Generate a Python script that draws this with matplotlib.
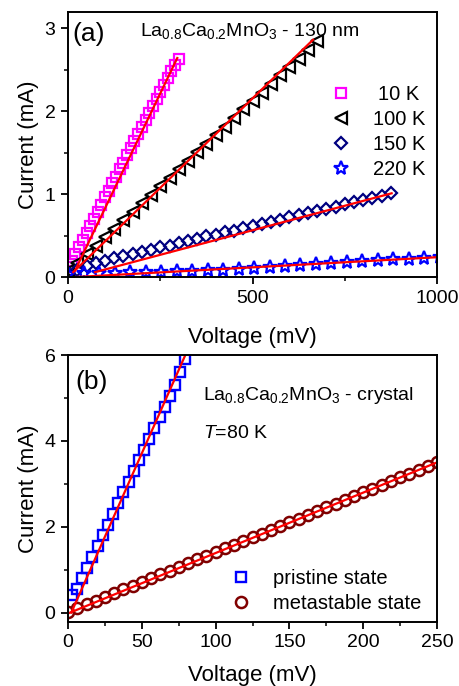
import matplotlib.pyplot as plt
from matplotlib.ticker import MultipleLocator

plt.rcParams['font.family'] = ['Liberation Sans', 'DejaVu Sans']
plt.rcParams['mathtext.fontset'] = 'custom'
plt.rcParams['mathtext.rm'] = 'Liberation Sans'
plt.rcParams['mathtext.it'] = 'Liberation Sans:italic'

# ---- panel (a): 130 nm film ----
v_10K = [0, 10, 20, 30, 40, 50, 60, 70, 80, 90, 100, 110, 120, 130, 140, 150,
         160, 170, 180, 190, 200, 210, 220, 230, 240, 250, 260, 270, 280, 290, 300]
i_10K = [0.12, 0.20, 0.28, 0.36, 0.45, 0.53, 0.62, 0.70, 0.79, 0.87, 0.96, 1.04,
         1.13, 1.21, 1.30, 1.38, 1.47, 1.55, 1.64, 1.72, 1.81, 1.89, 1.98, 2.06,
         2.15, 2.23, 2.32, 2.40, 2.48, 2.55, 2.63]

v_100K = [0, 25, 50, 75, 100, 125, 150, 175, 200, 225, 250, 275, 300, 325, 350,
          375, 400, 425, 450, 475, 500, 525, 550, 575, 600, 625, 650, 675]
i_100K = [0.07, 0.17, 0.28, 0.38, 0.48, 0.58, 0.69, 0.79, 0.89, 0.99, 1.10, 1.20,
          1.30, 1.40, 1.51, 1.61, 1.71, 1.81, 1.92, 2.02, 2.12, 2.22, 2.33, 2.43,
          2.53, 2.63, 2.74, 2.84]

v_150K = [0, 25, 50, 75, 100, 125, 150, 175, 200, 225, 250, 275, 300, 325, 350,
          375, 400, 425, 450, 475, 500, 525, 550, 575, 600, 625, 650, 675, 700,
          725, 750, 775, 800, 825, 850, 875]
i_150K = [0.05, 0.09, 0.13, 0.17, 0.20, 0.23, 0.25, 0.28, 0.30, 0.33, 0.36, 0.38,
          0.41, 0.43, 0.46, 0.49, 0.51, 0.54, 0.56, 0.59, 0.62, 0.64, 0.67, 0.69,
          0.72, 0.75, 0.77, 0.80, 0.82, 0.85, 0.88, 0.90, 0.93, 0.95, 0.98, 1.01]

v_220K = [0, 42, 84, 126, 168, 210, 252, 294, 336, 378, 420, 462, 504, 546, 588,
          630, 672, 714, 756, 798, 840, 882, 924, 966, 1008]
i_220K = [0.04, 0.045, 0.05, 0.055, 0.06, 0.062, 0.065, 0.07, 0.074, 0.081, 0.092,
          0.103, 0.114, 0.125, 0.136, 0.147, 0.158, 0.169, 0.18, 0.191, 0.202,
          0.213, 0.224, 0.235, 0.246]

fit_v_10K, fit_i_10K = [19, 296], [0.08, 2.64]
fit_v_100K, fit_i_100K = [14, 664], [0.06, 2.86]
fit_v_150K, fit_i_150K = [73, 877], [0.06, 1.01]
fit_v_220K, fit_i_220K = [15, 1000], [0.0, 0.24]

# ---- panel (b): crystal, T = 80 K ----
v_pristine = [2.5, 6, 9.5, 13, 16.5, 20, 23.5, 27, 30.5, 34, 37.5, 41, 44.5, 48,
              51.5, 55, 58.5, 62, 65.5, 69, 72.5, 76, 79.5, 83]
i_pristine = [0.40, 0.55, 0.80, 1.05, 1.30, 1.55, 1.80, 2.05, 2.30, 2.55, 2.80,
              3.05, 3.30, 3.55, 3.80, 4.05, 4.30, 4.55, 4.80, 5.05, 5.30, 5.60,
              5.90, 6.15]

v_meta = [0, 6.25, 12.5, 18.75, 25, 31.25, 37.5, 43.75, 50, 56.25, 62.5, 68.75,
          75, 81.25, 87.5, 93.75, 100, 106.25, 112.5, 118.75, 125, 131.25, 137.5,
          143.75, 150, 156.25, 162.5, 168.75, 175, 181.25, 187.5, 193.75, 200,
          206.25, 212.5, 218.75, 225, 231.25, 237.5, 243.75, 250]
i_meta = [0.02, 0.107, 0.194, 0.28, 0.37, 0.45, 0.54, 0.63, 0.72, 0.80, 0.89,
          0.98, 1.06, 1.15, 1.24, 1.32, 1.41, 1.50, 1.58, 1.67, 1.76, 1.84, 1.93,
          2.02, 2.11, 2.19, 2.28, 2.37, 2.45, 2.54, 2.63, 2.71, 2.80, 2.89, 2.97,
          3.06, 3.15, 3.24, 3.32, 3.41, 3.50]

fit_v_pristine, fit_i_pristine = [2.2, 82], [0.0, 6.2]
fit_v_meta, fit_i_meta = [0, 250], [-0.02, 3.5]

red = '#ff0000'
fig = plt.figure(figsize=(4.6, 6.86), dpi=100)
ax1 = fig.add_axes([0.148, 0.596, 0.802, 0.386])
ax2 = fig.add_axes([0.148, 0.0933, 0.802, 0.389])

mfc = 'none'
ax1.plot(v_10K, i_10K, 's', ms=7, mfc=mfc, mec='#ff00ff', mew=1.6, label='\u200510 K')
ax1.plot(v_100K, i_100K, '<', ms=8.5, mfc=mfc, mec='black', mew=1.6, label='100 K')
ax1.plot(v_150K, i_150K, 'D', ms=6.5, mfc=mfc, mec='#000080', mew=1.6, label='150 K')
ax1.plot(v_220K, i_220K, '*', ms=10, mfc=mfc, mec='#0000ff', mew=1.6, label='220 K')
for fv, fi in [(fit_v_10K, fit_i_10K), (fit_v_100K, fit_i_100K),
               (fit_v_150K, fit_i_150K), (fit_v_220K, fit_i_220K)]:
    ax1.plot(fv, fi, '-', color=red, lw=1.6)

ax2.plot(v_pristine, i_pristine, 's', ms=7, mfc=mfc, mec='#0000ff', mew=1.7, label='pristine state')
ax2.plot(v_meta, i_meta, 'o', ms=8, mfc=mfc, mec='#800000', mew=1.8, label='metastable state')
ax2.plot(fit_v_pristine, fit_i_pristine, '-', color=red, lw=1.6)
ax2.plot(fit_v_meta, fit_i_meta, '-', color=red, lw=1.6)

ax1.set_xlim(0, 1000)
ax1.set_ylim(0, 3.19)
ax1.xaxis.set_major_locator(MultipleLocator(500))
ax1.xaxis.set_minor_locator(MultipleLocator(250))
ax1.yaxis.set_major_locator(MultipleLocator(1))
ax1.yaxis.set_minor_locator(MultipleLocator(0.5))

ax2.set_xlim(0, 250)
ax2.set_ylim(-0.22, 6)
ax2.xaxis.set_major_locator(MultipleLocator(50))
ax2.xaxis.set_minor_locator(MultipleLocator(25))
ax2.yaxis.set_major_locator(MultipleLocator(2))
ax2.yaxis.set_minor_locator(MultipleLocator(1))

for ax in (ax1, ax2):
    for s in ax.spines.values():
        s.set_linewidth(1.4)
    ax.tick_params(which='major', direction='out', length=5, width=1.3, labelsize=14, pad=4)
    ax.tick_params(which='minor', direction='out', length=3, width=1.1)
    ax.set_ylabel('Current (mA)', fontsize=16, labelpad=4)
ax1.set_xlabel('Voltage (mV)', fontsize=16, labelpad=15)
ax2.set_xlabel('Voltage (mV)', fontsize=16, labelpad=10)

ax1.text(0.012, 0.92, '(a)', transform=ax1.transAxes, fontsize=19, va='center')
ax1.text(0.195, 0.93, r'La$_{0.8}$Ca$_{0.2}$MnO$_3$ - 130 nm', transform=ax1.transAxes,
         fontsize=14, va='center')
ax2.text(0.02, 0.90, '(b)', transform=ax2.transAxes, fontsize=19, va='center')
ax2.text(0.365, 0.85, r'La$_{0.8}$Ca$_{0.2}$MnO$_3$ - crystal', transform=ax2.transAxes,
         fontsize=14, va='center')
ax2.text(0.365, 0.705, r'$T$=80 K', transform=ax2.transAxes, fontsize=14, va='center')

ax1.legend(loc='upper left', bbox_to_anchor=(0.69, 0.756), frameon=False, fontsize=14.5,
           handletextpad=1.1, labelspacing=0.3, handlelength=1.0, borderaxespad=0)
ax2.legend(loc='upper left', bbox_to_anchor=(0.42, 0.23), frameon=False, fontsize=14.5,
           handletextpad=1.1, labelspacing=0.3, handlelength=1.0, borderaxespad=0)

fig.savefig('out.png', dpi=100)
